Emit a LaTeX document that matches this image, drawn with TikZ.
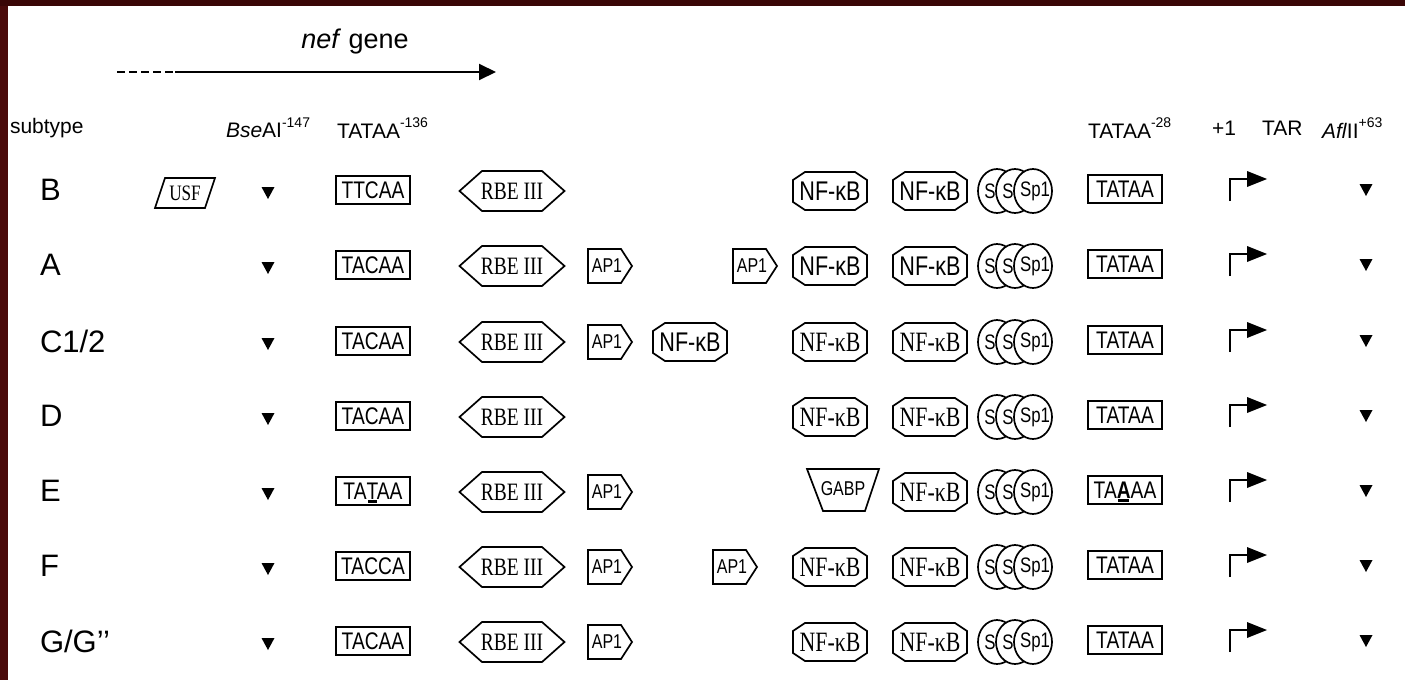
\documentclass[tikz,border=0pt]{standalone}
\usepackage{fontspec}
\setmainfont{Liberation Sans}
\newfontfamily\csans[FakeStretch=0.8]{Liberation Sans}
\newfontfamily\cserif[FakeStretch=0.78]{Liberation Serif}
\usetikzlibrary{arrows.meta}
\definecolor{maroonA}{RGB}{58,6,6}
\definecolor{maroonB}{RGB}{74,10,10}
\newcommand\mutul[1]{\setbox0\hbox{#1}\rlap{\smash{\hbox to \wd0{\hss\rule[-4pt]{0.8\wd0}{3pt}\hss}}}#1}
\newcommand\sups[1]{\raisebox{0.5em}{\fontsize{14}{15}\selectfont #1}}
\tikzset{
  every node/.style={inner sep=0pt, outer sep=0pt},
  sh/.style={line width=1.7pt, line join=miter, fill=white},
  hd/.style={anchor=west, font=\fontsize{21}{24}\selectfont},
  lab/.style={anchor=west, font=\fontsize{31}{34}\selectfont},
  boxn/.style={draw, line width=1.7pt, minimum width=74pt, minimum height=28pt, font=\csans\fontsize{24}{24}\selectfont},
  rbet/.style={font=\cserif\fontsize{25}{25}\selectfont},
  apt/.style={font=\csans\fontsize{20}{20}\selectfont},
  nfst/.style={font=\csans\fontsize{27}{27}\selectfont},
  nfrt/.style={font=\cserif\fontsize{28}{28}\selectfont},
  usft/.style={font=\cserif\fontsize{22}{22}\selectfont},
  gabt/.style={font=\csans\fontsize{20}{20}\selectfont},
  spt/.style={font=\csans\fontsize{21}{21}\selectfont},
  rbe/.pic={\draw[sh] (-52.5,0) -- (-30,-20) -- (30,-20) -- (52.5,0) -- (30,20) -- (-30,20) -- cycle;
            \node[rbet] (-t) at (0,0) {RBE III};},
  ap/.pic={\draw[sh] (-22,-17) -- (11,-17) -- (22,0) -- (11,17) -- (-22,17) -- cycle;
           \node[apt] (-t) at (-3,0) {AP1};},
  nfs/.pic={\draw[sh] (-37,-11) -- (-25,-19) -- (25,-19) -- (37,-11) -- (37,11) -- (25,19) -- (-25,19) -- (-37,11) -- cycle;
            \node[nfst] (-t) at (0,0) {NF-κB};},
  nfr/.pic={\draw[sh] (-37,-11) -- (-25,-19) -- (25,-19) -- (37,-11) -- (37,11) -- (25,19) -- (-25,19) -- (-37,11) -- cycle;
            \node[nfrt] (-t) at (0,0) {NF-κB};},
  usf/.pic={\draw[sh] (-20,-15) -- (30,-15) -- (20,15) -- (-30,15) -- cycle;
            \node[usft] (-t) at (0,0) {USF};},
  gabp/.pic={\draw[sh] (-36,-21) -- (36,-21) -- (22,21) -- (-20,21) -- cycle;
             \node[gabt] (-t) at (0,-1) {GABP};},
  sp/.pic={\draw[sh] (-18,0) ellipse [x radius=19, y radius=22];
           \node[spt] (-s1) at (-25,0) {S};
           \draw[sh] (0,0) ellipse [x radius=19, y radius=22];
           \node[spt] (-s2) at (-7,0) {S};
           \draw[sh] (18,0) ellipse [x radius=19, y radius=22];
           \node[spt] (-s3) at (20,0) {Sp1};},
  tss/.pic={\coordinate (-c) at (0,0);
            \draw[line width=1.6pt] (0,12) -- (0,-10) -- (20,-10);
            \fill (17,-18) -- (37,-10) -- (17,-2) -- cycle;},
  mark/.pic={\coordinate (-c) at (0,0);
             \fill (-6.5,-6) -- (6.5,-6) -- (0,6) -- cycle;}
}
\begin{document}
\begin{tikzpicture}[x=1pt,y=-1pt]
\useasboundingbox (0,0) rectangle (1405,680);
\fill[white] (0,0) rectangle (1405,680);
\fill[maroonB] (0,0) rectangle (8,680);
\fill[maroonA] (0,0) rectangle (1405,6);

% gene arrow
\node[font=\fontsize{27}{30}\selectfont] (nef) at (355,42) {\textit{nef} gene};
\coordinate (ds) at (117,72);
\coordinate (dm) at (175,72);
\coordinate (de) at (496,72);
\draw[line width=2pt, dash pattern=on 8pt off 4pt] (ds) -- (dm);
\draw[line width=2pt, -{Triangle[length=17pt,width=16pt]}] (dm) -- (de);

% header
\node[hd] (hsub) at (10,128) {subtype};
\node[hd] (hbse) at (226,128) {\textit{Bse}AI\sups{-147}};
\node[hd] (hta1) at (337,128) {TATAA\sups{-136}};
\node[hd] (hta2) at (1088,128) {TATAA\sups{-28}};
\node[hd] (hp1) at (1212,128) {+1};
\node[hd] (htar) at (1262,128) {TAR};
\node[hd] (hafl) at (1322,128) {\textit{Afl}II\sups{+63}};

% row B
\node[lab] (lB) at (40,190) {B};
\pic (usfB) at (185,193) {usf};
\pic (mB) at (268,193) {mark};
\node[boxn] (bB) at (373,190) {TTCAA};
\pic (rB) at (512,191) {rbe};
\pic (n1B) at (830,191) {nfs};
\pic (n2B) at (930,191) {nfs};
\pic (sB) at (1015,191) {sp};
\node[boxn] (tB) at (1125,189) {TATAA};
\pic (aB) at (1230,189) {tss};
\pic (zB) at (1366,190) {mark};

% row A
\node[lab] (lA) at (40,265) {A};
\pic (mA) at (268,268) {mark};
\node[boxn] (bA) at (373,265) {TACAA};
\pic (rA) at (512,266) {rbe};
\pic (p1A) at (610,266) {ap};
\pic (p2A) at (755,266) {ap};
\pic (n1A) at (830,266) {nfs};
\pic (n2A) at (930,266) {nfs};
\pic (sA) at (1015,266) {sp};
\node[boxn] (tA) at (1125,264) {TATAA};
\pic (aA) at (1230,264) {tss};
\pic (zA) at (1366,265) {mark};

% row C1/2
\node[lab] (lC) at (40,341) {C1/2};
\pic (mC) at (268,344) {mark};
\node[boxn] (bC) at (373,341) {TACAA};
\pic (rC) at (512,342) {rbe};
\pic (p1C) at (610,342) {ap};
\pic (n0C) at (690,342) {nfs};
\pic (n1C) at (830,342) {nfr};
\pic (n2C) at (930,342) {nfr};
\pic (sC) at (1015,342) {sp};
\node[boxn] (tC) at (1125,340) {TATAA};
\pic (aC) at (1230,340) {tss};
\pic (zC) at (1366,341) {mark};

% row D
\node[lab] (lD) at (40,416) {D};
\pic (mD) at (268,419) {mark};
\node[boxn] (bD) at (373,416) {TACAA};
\pic (rD) at (512,417) {rbe};
\pic (n1D) at (830,417) {nfr};
\pic (n2D) at (930,417) {nfr};
\pic (sD) at (1015,417) {sp};
\node[boxn] (tD) at (1125,415) {TATAA};
\pic (aD) at (1230,415) {tss};
\pic (zD) at (1366,416) {mark};

% row E
\node[lab] (lE) at (40,491) {E};
\pic (mE) at (268,494) {mark};
\node[boxn] (bE) at (373,491) {TA\mutul{T}AA};
\pic (rE) at (512,492) {rbe};
\pic (p1E) at (610,492) {ap};
\pic (gE) at (843,490) {gabp};
\pic (n2E) at (930,492) {nfr};
\pic (sE) at (1015,492) {sp};
\node[boxn] (tE) at (1125,490) {TA\mutul{\textbf{A}}AA};
\pic (aE) at (1230,490) {tss};
\pic (zE) at (1366,491) {mark};

% row F
\node[lab] (lF) at (40,566) {F};
\pic (mF) at (268,569) {mark};
\node[boxn] (bF) at (373,566) {TACCA};
\pic (rF) at (512,567) {rbe};
\pic (p1F) at (610,567) {ap};
\pic (p2F) at (735,567) {ap};
\pic (n1F) at (830,567) {nfr};
\pic (n2F) at (930,567) {nfr};
\pic (sF) at (1015,567) {sp};
\node[boxn] (tF) at (1125,565) {TATAA};
\pic (aF) at (1230,565) {tss};
\pic (zF) at (1366,566) {mark};

% row G/G''
\node[lab] (lG) at (40,641) {G/G’’};
\pic (mG) at (268,644) {mark};
\node[boxn] (bG) at (373,641) {TACAA};
\pic (rG) at (512,642) {rbe};
\pic (p1G) at (610,642) {ap};
\pic (n1G) at (830,642) {nfr};
\pic (n2G) at (930,642) {nfr};
\pic (sG) at (1015,642) {sp};
\node[boxn] (tG) at (1125,640) {TATAA};
\pic (aG) at (1230,640) {tss};
\pic (zG) at (1366,641) {mark};
\end{tikzpicture}
\end{document}
